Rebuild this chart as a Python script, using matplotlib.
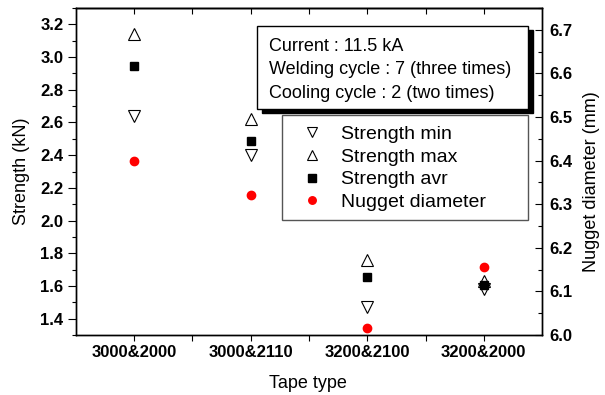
import matplotlib
matplotlib.use("Agg")
import matplotlib.pyplot as plt
from matplotlib.patches import Rectangle
from matplotlib.ticker import MultipleLocator, FixedLocator

plt.rcParams['font.family'] = ['Liberation Sans', 'DejaVu Sans']

# Data
tape_types = ['3000&2000', '3000&2110', '3200&2100', '3200&2000']
strength_min = [2.64, 2.40, 1.47, 1.58]
strength_max = [3.14, 2.62, 1.76, 1.63]
strength_avr = [2.945, 2.487, 1.655, 1.607]
nugget_diameter = [6.40, 6.322, 6.015, 6.156]
conditions = ['Current : 11.5 kA',
              'Welding cycle : 7 (three times)',
              'Cooling cycle : 2 (two times)']

xpos = list(range(1, len(tape_types) + 1))

fig = plt.figure(figsize=(6.05, 3.95), dpi=100)
ax = fig.add_axes([0.1256, 0.1519, 0.7703, 0.8278])
ax2 = ax.twinx()

tri = dict(linestyle='none', markerfacecolor='white', markeredgecolor='black',
           markeredgewidth=0.8, markersize=8)
h_min, = ax.plot(xpos, strength_min, marker='v', label='Strength min', **tri)
h_max, = ax.plot(xpos, strength_max, marker='^', label='Strength max', **tri)
h_avr, = ax.plot(xpos, strength_avr, marker='s', linestyle='none', color='black',
                 markersize=5.8, label='Strength avr')
h_nug, = ax2.plot(xpos, nugget_diameter, marker='o', linestyle='none', color='red',
                  markersize=6, label='Nugget diameter')

# axes ranges and ticks
ax.set_xlim(0.5, 4.5)
ax.set_ylim(1.3, 3.3)
ax2.set_ylim(6.0, 6.75)
ax.set_xticks(xpos)
ax.set_xticklabels(tape_types)
ax.xaxis.set_minor_locator(FixedLocator([1.5, 2.5, 3.5]))
ax.yaxis.set_major_locator(MultipleLocator(0.2))
ax.yaxis.set_minor_locator(MultipleLocator(0.1))
ax2.yaxis.set_major_locator(MultipleLocator(0.1))
ax2.yaxis.set_minor_locator(MultipleLocator(0.05))

ax.tick_params(axis='x', which='both', direction='out', length=4, width=0.8,
               labelsize=12, pad=3)
ax.tick_params(axis='y', which='major', direction='out', length=6, width=0.8,
               labelsize=12, pad=3)
ax.tick_params(axis='y', which='minor', direction='out', length=3, width=0.8)
ax2.tick_params(axis='y', which='major', direction='in', length=5, width=0.8,
                labelsize=12, pad=5)
ax2.tick_params(axis='y', which='minor', direction='in', length=3, width=0.8)
for lab in ax.get_xticklabels() + ax.get_yticklabels() + ax2.get_yticklabels():
    lab.set_fontweight('bold')

top = ax.secondary_xaxis('top')
top.set_xticks(xpos)
top.xaxis.set_minor_locator(FixedLocator([1.5, 2.5, 3.5]))
top.tick_params(axis='x', which='both', direction='in', length=4, width=0.8,
                labeltop=False)
top.spines['top'].set_linewidth(1.0)

for a in (ax, ax2):
    for s in a.spines.values():
        s.set_linewidth(1.0)

ax.set_xlabel('Tape type', fontsize=13, va='center')
ax.xaxis.set_label_coords(0.498, -0.147)
ax.set_ylabel('Strength (kN)', fontsize=13, va='center')
ax.yaxis.set_label_coords(-0.116, 0.5)
ax2.set_ylabel('Nugget diameter (mm)', fontsize=13, va='center')
ax2.yaxis.set_label_coords(1.107, 0.468)

# condition box with drop shadow
bx0, bx1, by0, by1 = 0.388, 0.970, 0.691, 0.945
ax2.add_patch(Rectangle((bx0 + 0.0107, by0 - 0.0122), bx1 - bx0, by1 - by0,
                        transform=ax2.transAxes, facecolor='black',
                        edgecolor='black', zorder=5, clip_on=False))
ax2.add_patch(Rectangle((bx0, by0), bx1 - bx0, by1 - by0,
                        transform=ax2.transAxes, facecolor='white',
                        edgecolor='black', linewidth=1.0, zorder=6, clip_on=False))
ax2.text(0.414, 0.811, '\n'.join(conditions), transform=ax2.transAxes,
         fontsize=13, va='center', ha='left', linespacing=1.52, zorder=7)

# legend frame and entries
lx0, lx1, ly0, ly1 = 0.442, 0.970, 0.352, 0.673
ax2.add_patch(Rectangle((lx0, ly0), lx1 - lx0, ly1 - ly0,
                        transform=ax2.transAxes, facecolor='white',
                        edgecolor='#555555', linewidth=1.0, zorder=6, clip_on=False))
leg = ax2.legend(handles=[h_min, h_max, h_avr, h_nug], loc='upper left',
                 bbox_to_anchor=(0.485, 0.642), frameon=False, fontsize=14,
                 borderpad=0, borderaxespad=0, handlelength=1.0,
                 handletextpad=1.0, labelspacing=0.27, markerscale=0.9)
leg.set_zorder(8)

fig.savefig('out.png', dpi=100)
